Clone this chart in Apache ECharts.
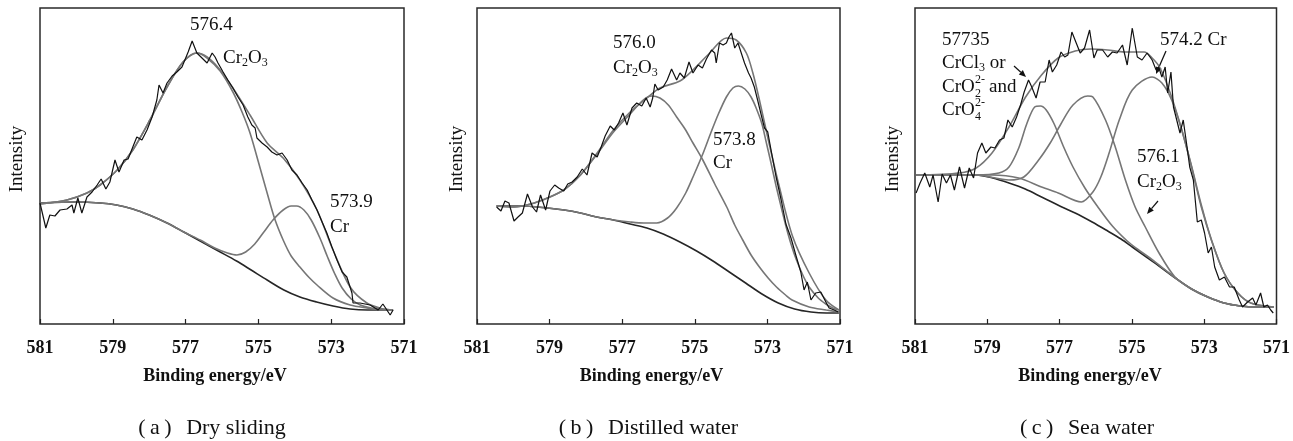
<!DOCTYPE html>
<html>
<head>
<meta charset="utf-8">
<title>Cr 2p XPS</title>
<script src="https://cdn.jsdelivr.net/npm/echarts@6/dist/echarts.min.js"></script>
<style>
    html, body { margin: 0; padding: 0; background: #fff; }
    #chart { width: 1293px; height: 441px; }
</style>
</head>
<body>
<div id="chart"></div>
<script>
// binding energy axis (eV), drawn high -> low
const xTicks = [581, 579, 577, 575, 573, 571]

// (a) dry sliding: [binding energy, intensity]
const aRaw = [[581.00,121],[580.84,96],[580.73,109],[580.59,108],[580.45,114],[580.26,115],[580.12,119],[580.07,111],[579.96,126],[579.85,111],[579.71,127],[579.57,132],[579.43,139],[579.32,145],[579.19,135],[579.08,142],[578.94,164],[578.83,152],[578.69,164],[578.58,165],[578.45,177],[578.34,187],[578.20,184],[578.06,194],[577.92,207],[577.79,224],[577.73,239],[577.62,231],[577.51,241],[577.37,248],[577.24,252],[577.10,257],[577.02,264],[576.93,272],[576.82,283],[576.69,271],[576.55,266],[576.41,261],[576.27,271],[576.19,267],[576.11,261],[575.97,252],[575.84,244],[575.70,236],[575.56,227],[575.42,219],[575.29,207],[575.18,199],[575.09,196],[575.04,186],[574.90,181],[574.76,177],[574.63,172],[574.49,169],[574.35,171],[574.21,164],[574.08,154],[573.94,149],[573.80,141],[573.66,134],[573.53,124],[573.39,114],[573.25,102],[573.12,91],[572.98,77],[572.84,64],[572.70,52],[572.57,47],[572.43,31],[572.40,21],[572.21,21],[572.07,20],[571.93,19],[571.71,14],[571.58,20],[571.47,14],[571.38,9],[571.30,14]]
const aEnvelope = [[581.00,120],[580.26,124],[579.71,131],[579.35,139],[578.88,154],[578.45,174],[577.98,204],[577.51,237],[577.07,262],[576.69,271],[576.41,267],[576.05,254],[575.70,236],[575.23,209],[574.76,181],[574.32,166],[573.86,144],[573.39,114],[572.95,74],[572.48,37],[572.02,21],[571.58,15],[571.30,14]]
const aCr2O3 = [[581.00,120],[580.26,124],[579.71,131],[579.35,139],[578.88,154],[578.45,174],[577.98,204],[577.51,237],[577.07,262],[576.69,271],[576.41,266],[576.05,253],[575.70,232],[575.45,212],[575.23,191],[575.00,162],[574.76,131],[574.55,105],[574.32,84],[574.10,68],[573.86,57],[573.62,47],[573.39,39],[572.95,26],[572.48,19],[572.02,16],[571.58,14],[571.30,14]]
const aCr = [[581.00,121],[580.00,122],[579.35,121],[578.90,119],[578.45,115],[578.00,109],[577.51,101],[577.05,92],[576.60,84],[576.20,76],[575.85,71],[575.59,69],[575.35,72],[575.10,80],[574.85,92],[574.60,104],[574.32,114],[574.10,118],[573.95,118],[573.75,114],[573.55,104],[573.31,86],[573.10,67],[572.90,50],[572.70,36],[572.45,25],[572.20,19],[571.90,16],[571.60,15],[571.30,14]]
const aBackground = [[581.00,121],[580.00,122],[579.35,121],[578.90,119],[578.45,115],[578.00,109],[577.51,101],[577.05,92],[576.60,83],[576.10,73],[575.60,63],[575.20,54],[574.76,44],[574.30,34],[573.86,27],[573.40,22],[572.95,18],[572.48,15],[572.00,14],[571.30,14]]

// (b) distilled water
const bRaw = [[580.46,117],[580.34,113],[580.23,123],[580.12,121],[579.98,103],[579.87,107],[579.75,111],[579.61,130],[579.47,117],[579.36,112],[579.25,129],[579.11,114],[578.99,133],[578.86,139],[578.75,136],[578.61,133],[578.50,140],[578.38,142],[578.24,147],[578.10,155],[577.97,149],[577.83,171],[577.69,167],[577.58,177],[577.47,188],[577.33,198],[577.22,194],[577.10,201],[576.98,211],[576.87,199],[576.73,216],[576.60,221],[576.46,218],[576.34,226],[576.23,217],[576.16,226],[576.10,240],[576.01,234],[575.87,237],[575.76,244],[575.64,255],[575.50,244],[575.41,251],[575.29,246],[575.16,262],[575.05,251],[574.91,259],[574.79,256],[574.68,265],[574.54,274],[574.45,271],[574.41,261],[574.32,281],[574.22,279],[574.13,281],[574.06,287],[573.99,291],[573.90,276],[573.81,281],[573.72,271],[573.63,261],[573.52,251],[573.45,246],[573.36,237],[573.27,224],[573.17,209],[573.08,196],[572.99,192],[572.90,174],[572.76,147],[572.62,124],[572.49,100],[572.35,86],[572.21,68],[572.08,52],[571.99,34],[571.90,42],[571.80,24],[571.67,31],[571.53,32],[571.39,22],[571.30,16],[571.16,14],[571.05,12]]
const bEnvelope = [[580.46,118],[579.98,117],[579.52,120],[579.06,126],[578.61,134],[578.15,149],[577.69,171],[577.24,194],[576.78,212],[576.32,226],[575.96,236],[575.41,243],[575.05,254],[574.59,271],[574.13,286],[573.86,284],[573.58,271],[573.40,251],[573.22,224],[572.95,180],[572.67,137],[572.31,88],[571.85,51],[571.39,24],[571.03,14]]
const bCr2O3 = [[580.46,118],[579.98,117],[579.52,120],[579.06,126],[578.61,134],[578.15,149],[577.69,170],[577.24,192],[576.78,210],[576.42,224],[576.19,228],[575.96,226],[575.73,219],[575.50,207],[575.27,195],[575.05,181],[574.78,164],[574.45,140],[574.12,117],[573.90,99],[573.68,84],[573.45,69],[573.22,57],[572.98,46],[572.75,37],[572.50,29],[572.32,24],[571.85,17],[571.38,14],[571.03,12]]
const bCr = [[580.46,118],[579.80,118],[579.06,116],[578.60,114],[578.15,111],[577.70,107],[577.24,104],[576.78,102],[576.40,101],[576.05,101],[575.75,106],[575.50,116],[575.25,131],[575.05,147],[574.78,170],[574.55,192],[574.35,210],[574.13,227],[573.95,236],[573.80,238],[573.62,235],[573.45,227],[573.31,216],[573.15,200],[573.04,183],[572.90,161],[572.76,138],[572.60,114],[572.49,98],[572.35,80],[572.21,65],[572.00,47],[571.85,37],[571.60,26],[571.39,20],[571.20,16],[571.03,14]]
const bBackground = [[580.46,118],[579.80,118],[579.06,116],[578.60,114],[578.15,111],[577.70,107],[577.24,104],[576.78,100],[576.32,96],[575.87,90],[575.41,82],[574.95,73],[574.50,63],[574.05,52],[573.60,41],[573.15,30],[572.70,21],[572.25,15],[571.80,12],[571.38,11],[571.03,11]]

// (c) sea water
const cRaw = [[580.97,131],[580.86,141],[580.73,151],[580.59,137],[580.50,149],[580.36,122],[580.25,150],[580.13,141],[580.02,149],[579.91,134],[579.77,157],[579.63,136],[579.50,156],[579.38,146],[579.27,171],[579.15,181],[579.04,171],[578.90,177],[578.79,176],[578.66,184],[578.54,186],[578.43,204],[578.31,197],[578.19,207],[578.08,219],[577.98,232],[577.86,244],[577.77,237],[577.65,226],[577.54,242],[577.40,242],[577.29,264],[577.20,252],[577.08,259],[576.96,272],[576.86,267],[576.77,269],[576.66,292],[576.54,281],[576.43,271],[576.31,276],[576.17,294],[576.05,266],[575.96,274],[575.81,274],[575.67,267],[575.54,272],[575.41,271],[575.26,279],[575.13,259],[574.99,296],[574.85,267],[574.72,264],[574.58,271],[574.44,264],[574.33,254],[574.26,257],[574.17,247],[574.08,257],[574.01,231],[573.92,252],[573.85,217],[573.76,204],[573.67,191],[573.58,204],[573.49,181],[573.40,157],[573.30,144],[573.19,102],[573.08,104],[572.99,91],[572.89,71],[572.80,77],[572.71,57],[572.58,44],[572.44,47],[572.30,37],[572.17,37],[572.03,24],[571.94,17],[571.80,22],[571.66,26],[571.57,19],[571.44,31],[571.35,17],[571.25,19],[571.16,14],[571.09,11]]
const cEnvelope = [[580.97,149],[579.77,151],[579.31,156],[578.87,171],[578.40,197],[577.94,227],[577.50,249],[577.04,266],[576.57,273],[576.14,275],[575.67,274],[575.21,272],[574.66,272],[574.44,266],[574.22,256],[573.92,229],[573.62,194],[573.35,158],[573.08,119],[572.80,84],[572.45,51],[572.07,31],[571.71,21],[571.08,17]]
const cCrCl3 = [[580.97,149],[579.31,149],[578.68,151],[578.40,157],[578.13,176],[577.91,200],[577.69,217],[577.53,218],[577.37,214],[577.15,200],[576.90,178],[576.63,157],[576.30,136],[575.96,118],[575.54,98],[575.13,83],[574.85,75],[574.50,66],[574.25,59],[573.80,46],[573.35,35],[572.90,27],[572.45,21],[572.00,18],[571.57,17],[571.08,17]]
const cCr2O3 = [[580.97,149],[579.31,149],[578.40,144],[577.99,147],[577.58,164],[577.26,181],[576.98,199],[576.63,219],[576.22,228],[576.08,227],[575.73,204],[575.46,177],[575.18,144],[574.91,117],[574.63,97],[574.25,71],[573.81,47],[573.35,35],[572.90,27],[572.45,21],[572.00,18],[571.57,17],[571.08,17]]
const cCr = [[580.97,149],[578.87,149],[578.13,146],[577.50,137],[577.04,131],[576.40,122],[576.08,132],[575.86,147],[575.63,171],[575.35,204],[574.99,234],[574.44,247],[574.17,241],[573.90,224],[573.62,194],[573.35,157],[573.08,117],[572.80,84],[572.45,51],[572.07,31],[571.71,21],[571.08,17]]
const cBackground = [[580.97,149],[580.00,149],[579.31,149],[578.85,146],[578.40,141],[577.95,135],[577.50,127],[577.05,119],[576.57,111],[576.10,102],[575.67,93],[575.30,85],[574.99,77],[574.60,67],[574.25,58],[573.80,46],[573.35,35],[572.90,27],[572.45,21],[572.00,18],[571.57,17],[571.08,17]]

const captions = ['(\u2009a\u2009)\u2002\u2006Dry sliding', '(\u2009b\u2009)\u2002\u2006Distilled water', '(\u2009c\u2009)\u2002\u2006Sea water']

const FONT = '"Liberation Serif", "Times New Roman", serif'
const INK = '#111'
const GRAY = '#767676'

const panels = [
    { left: 40, width: 364, yLabelX: 17, fits: [aCr2O3, aCr, aEnvelope], bg: aBackground, raw: aRaw },
    { left: 477, width: 363, yLabelX: 457, fits: [bCr2O3, bCr, bEnvelope], bg: bBackground, raw: bRaw },
    { left: 915, width: 364, yLabelX: 893, fits: [cCrCl3, cCr2O3, cCr, cEnvelope], bg: cBackground, raw: cRaw },
]
const TOP = 8, HEIGHT = 316

const grid = [], xAxis = [], yAxis = [], series = []
const graphic = []

function txt(x, y, text, size, opts) {
    opts = opts || {}
    return {
        type: 'text', x: x, y: y, rotation: opts.rotation || 0, silent: true,
        style: {
            text: text, fontFamily: FONT, fontSize: size, fontWeight: opts.bold ? 'bold' : 'normal',
            fill: INK, align: opts.align || 'left', verticalAlign: 'middle',
            textAlign: opts.align || 'left', textVerticalAlign: 'middle',
            lineHeight: opts.lineHeight, rich: opts.rich,
        },
    }
}

const subRich = {
    s: { fontFamily: FONT, fontSize: 12, fill: INK, lineHeight: 8, verticalAlign: 'bottom' },
}

function arrow(x1, y1, x2, y2) {
    const a = Math.atan2(y2 - y1, x2 - x1)
    const L = 7, W = 3
    const bx = x2 - L * Math.cos(a), by = y2 - L * Math.sin(a)
    const px = -Math.sin(a) * W, py = Math.cos(a) * W
    graphic.push({ type: 'line', silent: true, shape: { x1: x1, y1: y1, x2: bx, y2: by }, style: { stroke: INK, lineWidth: 1.2 } })
    graphic.push({ type: 'polygon', silent: true, shape: { points: [[x2, y2], [bx + px, by + py], [bx - px, by - py]] }, style: { fill: INK } })
}

panels.forEach((p, i) => {
    grid.push({
        left: p.left, top: TOP, width: p.width, height: HEIGHT,
        show: true, borderColor: '#2a2a2a', borderWidth: 1.5, backgroundColor: 'transparent',
    })
    xAxis.push({
        gridIndex: i, type: 'value', inverse: true,
        min: Math.min(...xTicks), max: Math.max(...xTicks), interval: 2,
        axisLine: { show: false },
        axisTick: { show: true, inside: true, length: 5, lineStyle: { color: '#222', width: 1.2 } },
        axisLabel: { show: true, margin: 15, fontFamily: FONT, fontSize: 18, fontWeight: 'bold', color: INK, showMinLabel: true, showMaxLabel: true },
        splitLine: { show: false },
    })
    yAxis.push({
        gridIndex: i, type: 'value', min: 0, max: 316,
        axisLine: { show: false }, axisTick: { show: false }, axisLabel: { show: false }, splitLine: { show: false },
    })

    series.push({
        type: 'line', xAxisIndex: i, yAxisIndex: i, data: p.bg, symbol: 'none', smooth: 0.3, silent: true,
        lineStyle: { color: '#262626', width: 1.6 }, z: 2,
    })
    p.fits.forEach(d => {
        series.push({
            type: 'line', xAxisIndex: i, yAxisIndex: i, data: d, symbol: 'none', smooth: 0.3, silent: true,
            lineStyle: { color: GRAY, width: 1.6 }, z: 3,
        })
    })
    series.push({
        type: 'line', xAxisIndex: i, yAxisIndex: i, data: p.raw, symbol: 'none', silent: true,
        lineStyle: { color: INK, width: 1.2 }, z: 4,
    })

    const cx = p.left + p.width / 2
    graphic.push(txt(cx - 7, 376, 'Binding energy/eV', 18, { align: 'center', bold: true }))
    graphic.push(txt(cx - 10, 428, captions[i], 22, { align: 'center' }))
    graphic.push(txt(p.yLabelX, 159, 'Intensity', 19, { align: 'center', rotation: Math.PI / 2 }))
})

// peak annotations
graphic.push(txt(190, 25, '576.4', 19))
graphic.push(txt(223, 58, 'Cr{s|2}O{s|3}', 19, { rich: subRich, lineHeight: 22 }))
graphic.push(txt(330, 202, '573.9', 19))
graphic.push(txt(330, 227, 'Cr', 19))

graphic.push(txt(613, 43, '576.0', 19))
graphic.push(txt(613, 68, 'Cr{s|2}O{s|3}', 19, { rich: subRich, lineHeight: 22 }))
graphic.push(txt(713, 140, '573.8', 19))
graphic.push(txt(713, 163, 'Cr', 19))

graphic.push(txt(942, 40, '57735', 19))
graphic.push(txt(942, 63, 'CrCl{s|3} or', 19, { rich: subRich, lineHeight: 22 }))
graphic.push(txt(942, 87, 'CrO', 19))
graphic.push(txt(975, 80, '2-', 12))
graphic.push(txt(975, 94, '2', 12))
graphic.push(txt(989, 87, 'and', 19))
graphic.push(txt(942, 110, 'CrO', 19))
graphic.push(txt(975, 103, '2-', 12))
graphic.push(txt(975, 117, '4', 12))
graphic.push(txt(1160, 40, '574.2 Cr', 19))
graphic.push(txt(1137, 157, '576.1', 19))
graphic.push(txt(1137, 182, 'Cr{s|2}O{s|3}', 19, { rich: subRich, lineHeight: 22 }))
arrow(1014, 66, 1026, 77)
arrow(1166, 51, 1156, 74)
arrow(1158, 201, 1147, 214)

const chart = echarts.init(document.getElementById('chart'), null, { renderer: 'canvas' })
chart.setOption({
    animation: false,
    backgroundColor: '#fff',
    grid: grid,
    xAxis: xAxis,
    yAxis: yAxis,
    series: series,
    graphic: { elements: graphic },
})
</script>
</body>
</html>
